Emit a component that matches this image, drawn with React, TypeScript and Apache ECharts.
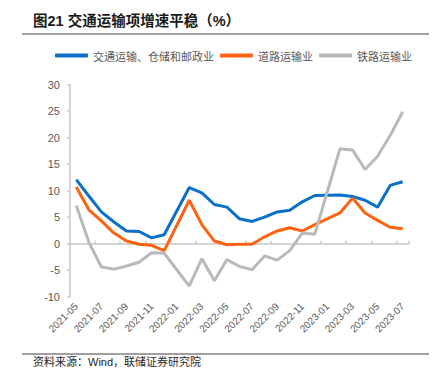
import React, { useEffect, useRef } from "react";
import * as echarts from "echarts";

const categories = [
  "2021-05", "2021-06", "2021-07", "2021-08", "2021-09", "2021-10", "2021-11", "2021-12",
  "2022-01", "2022-02", "2022-03", "2022-04", "2022-05", "2022-06", "2022-07", "2022-08",
  "2022-09", "2022-10", "2022-11", "2022-12", "2023-01", "2023-02", "2023-03", "2023-04",
  "2023-05", "2023-06", "2023-07",
];

const transportWarehousePostal = [
  12.1, 9.0, 6.0, 4.1, 2.4, 2.3, 1.1, 1.7, null, 10.6, 9.6, 7.4, 6.9, 4.7, 4.2, 5.0,
  6.0, 6.3, 7.9, 9.1, null, 9.2, 8.9, 8.2, 6.9, 11.0, 11.7,
];

const roadTransport = [
  10.7, 6.4, 4.3, 2.0, 0.5, -0.1, -0.3, -1.3, null, 8.2, 3.6, 0.5, -0.2, -0.1, -0.1, 1.3,
  2.4, 3.0, 2.4, 3.6, null, 5.8, 8.6, 5.8, 4.4, 3.1, 2.8,
];

const railTransport = [
  7.2, 0.3, -4.4, -4.8, -4.2, -3.5, -1.7, -1.8, null, -8.0, -2.8, -7.0, -3.0, -4.3, -4.9, -2.3,
  -3.1, -1.3, 2.0, 1.8, null, 17.9, 17.7, 14.0, 16.5, 20.4, 24.9,
];

const seriesNames = ["交通运输、仓储和邮政业", "道路运输业", "铁路运输业"];
const seriesColors = ["#0A70C8", "#FF6210", "#B9B9B9"];

const titleText = "图21 交通运输项增速平稳（%）";
const sourceText = "资料来源：Wind，联储证券研究院";

export default function App() {
  const ref = useRef<HTMLDivElement>(null);

  useEffect(() => {
    document.body.style.margin = "0";
    if (!ref.current) return;
    const chart = echarts.init(ref.current, null, { renderer: "svg" });
    const fontFamily = "Liberation Sans, Arial, Noto Sans CJK SC, sans-serif";
    const dataSets = [transportWarehousePostal, roadTransport, railTransport];
    chart.setOption({
      animation: false,
      backgroundColor: "#ffffff",
      textStyle: { fontFamily },
      grid: { left: 70, right: 35, top: 84.7, bottom: 82.3, containLabel: false },
      legend: {
        left: 50,
        top: 45,
        itemWidth: 33,
        itemHeight: 4,
        itemGap: 6,
        icon: "roundRect",
        textStyle: { fontSize: 11, color: "#595959", fontFamily: "Noto Sans CJK SC" },
        data: seriesNames,
      },
      xAxis: [
        {
          type: "category",
          data: categories,
          position: "bottom",
          boundaryGap: true,
          axisLine: { show: false, onZero: false },
          axisTick: { show: false },
          axisLabel: {
            interval: 1,
            rotate: 45,
            fontSize: 10,
            color: "#595959",
            margin: 8,
          },
        },
        {
          type: "category",
          data: categories,
          position: "top",
          boundaryGap: true,
          axisLine: { show: true, onZero: true, lineStyle: { color: "#C8C8C8", width: 1.5 } },
          axisTick: {
            show: true,
            interval: 1,
            inside: false,
            length: 3,
            lineStyle: { color: "#C8C8C8", width: 1.5 },
          },
          axisLabel: { show: false },
        },
      ],
      yAxis: {
        type: "value",
        min: -10,
        max: 30,
        interval: 5,
        axisLine: { show: true, lineStyle: { color: "#C8C8C8", width: 1.5 } },
        axisTick: { show: true, length: 3, lineStyle: { color: "#C8C8C8", width: 1.5 } },
        splitLine: { show: false },
        axisLabel: { fontSize: 11, color: "#595959", margin: 10 },
      },
      series: seriesNames.map((name, i) => ({
        name,
        type: "line",
        data: dataSets[i],
        xAxisIndex: 0,
        connectNulls: true,
        showSymbol: false,
        symbol: "none",
        z: 2 + i,
        lineStyle: { color: seriesColors[i], width: 3 },
        itemStyle: { color: seriesColors[i] },
      })),
      graphic: [
        {
          type: "text",
          left: 33,
          top: 14,
          style: {
            text: titleText,
            fontSize: 14.5,
            fontWeight: "bold",
            fill: "#1a1a1a",
            fontFamily: "Liberation Sans, Noto Sans CJK SC, sans-serif",
          },
        },
        {
          type: "line",
          shape: { x1: 22, y1: 34, x2: 429, y2: 34 },
          style: { stroke: "#404040", lineWidth: 1 },
        },
        {
          type: "line",
          shape: { x1: 22, y1: 354, x2: 429, y2: 354 },
          style: { stroke: "#404040", lineWidth: 1 },
        },
        {
          type: "text",
          left: 33,
          top: 356,
          style: {
            text: sourceText,
            fontSize: 11,
            fill: "#262626",
            fontFamily: "Liberation Sans, Noto Sans CJK SC, sans-serif",
          },
        },
      ],
    });
    return () => chart.dispose();
  }, []);

  return <div ref={ref} style={{ width: 444, height: 379 }} />;
}
